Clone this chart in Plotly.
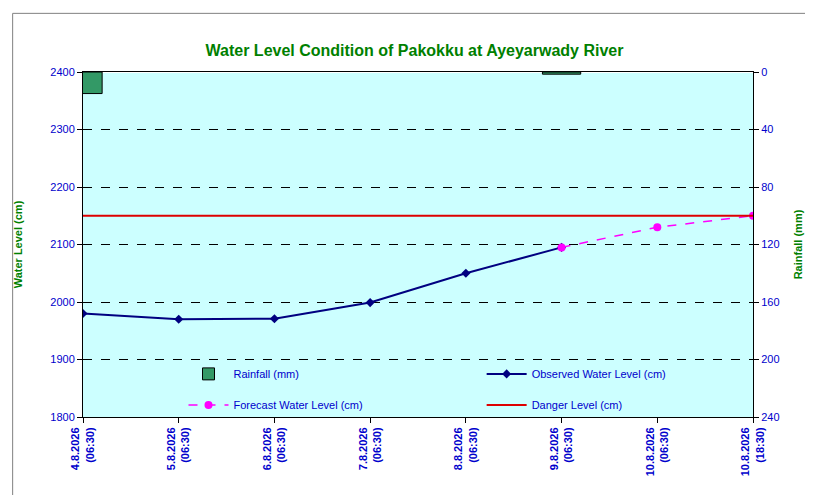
import plotly.graph_objects as go

dates = ["4.8.2026<br>(06:30)", "5.8.2026<br>(06:30)", "6.8.2026<br>(06:30)", "7.8.2026<br>(06:30)",
         "8.8.2026<br>(06:30)", "9.8.2026<br>(06:30)", "10.8.2026<br>(06:30)", "10.8.2026<br>(18:30)"]
rainfall = [15, None, None, None, None, 1.5, None, None]
observed = [1980, 1970, 1971, 1999, 2050, 2095]
forecast_x = [5, 6, 7]
forecast = [2095, 2130, 2150]
danger = [2150] * 8

xs = list(range(len(dates)))
BLUE = "#0000CC"
GREEN = "#008000"

fig = go.Figure()
fig.add_trace(go.Bar(x=xs, y=rainfall, name="Rainfall (mm)", yaxis="y2", width=0.4, legend="legend",
                     marker=dict(color="#339966", line=dict(color="black", width=1))))
fig.add_trace(go.Scatter(x=xs[:len(observed)], y=observed, name="Observed Water Level (cm)", legend="legend2",
                         mode="lines+markers", line=dict(color="#000080", width=2),
                         marker=dict(symbol="diamond", size=7, color="#000080")))
fig.add_trace(go.Scatter(x=forecast_x, y=forecast, name="Forecast Water Level (cm)", legend="legend3",
                         mode="lines+markers", line=dict(color="#FF00FF", width=1.5, dash="dash"),
                         marker=dict(symbol="circle", size=8, color="#FF00FF")))
fig.add_trace(go.Scatter(x=xs, y=danger, name="Danger Level (cm)", mode="lines", legend="legend4",
                         line=dict(color="#DD0000", width=2)))

leg = dict(bgcolor="rgba(0,0,0,0)", yanchor="middle", xanchor="left",
           font=dict(family="Arial", size=11, color=BLUE), itemwidth=40)
c1, c2, r1, r2 = 0.15, 0.595, 0.125, 0.035

fig.update_layout(
    width=813, height=495,
    margin=dict(l=75, r=68, t=64, b=86, autoexpand=False),
    paper_bgcolor="white", plot_bgcolor="#CCFFFF",
    title=dict(text="<b>Water Level Condition of Pakokku at Ayeyarwady River</b>", x=0.5, y=0.925,
               xanchor="center", font=dict(family="Arial", size=16, color=GREEN)),
    font=dict(family="Arial", size=11, color=BLUE),
    xaxis=dict(tickmode="array", tickvals=xs, ticktext=["<b>" + d + "</b>" for d in dates],
               tickangle=-90, range=[0, 7], showgrid=False, showline=True, linecolor="black",
               mirror=True, ticks="outside", tickcolor="black", tickfont=dict(size=11, color=BLUE)),
    yaxis=dict(range=[1800, 2400], dtick=100, showgrid=True, gridcolor="black", griddash="dash",
               gridwidth=1, showline=True, linecolor="black", ticks="outside", tickcolor="black",
               tickfont=dict(size=11, color=BLUE), tickformat="d",
               title=dict(text="<b>Water Level (cm)</b>", font=dict(size=11, color=GREEN), standoff=25)),
    yaxis2=dict(overlaying="y", side="right", range=[240, 0], dtick=40, showgrid=False,
                showline=True, linecolor="black", ticks="outside", tickcolor="black",
                tickfont=dict(size=11, color=BLUE),
                title=dict(text="<b>Rainfall (mm)</b>", font=dict(size=11, color=GREEN), standoff=15)),
    legend=dict(leg, x=c1, y=r1),
    legend2=dict(leg, x=c2, y=r1),
    legend3=dict(leg, x=c1, y=r2),
    legend4=dict(leg, x=c2, y=r2),
    showlegend=True,
    shapes=[dict(type="rect", xref="paper", yref="paper", x0=-0.105, x1=1.09, y0=-0.245, y1=1.17,
                 line=dict(color="#808080", width=1))],
)
fig.write_html("out.html")
